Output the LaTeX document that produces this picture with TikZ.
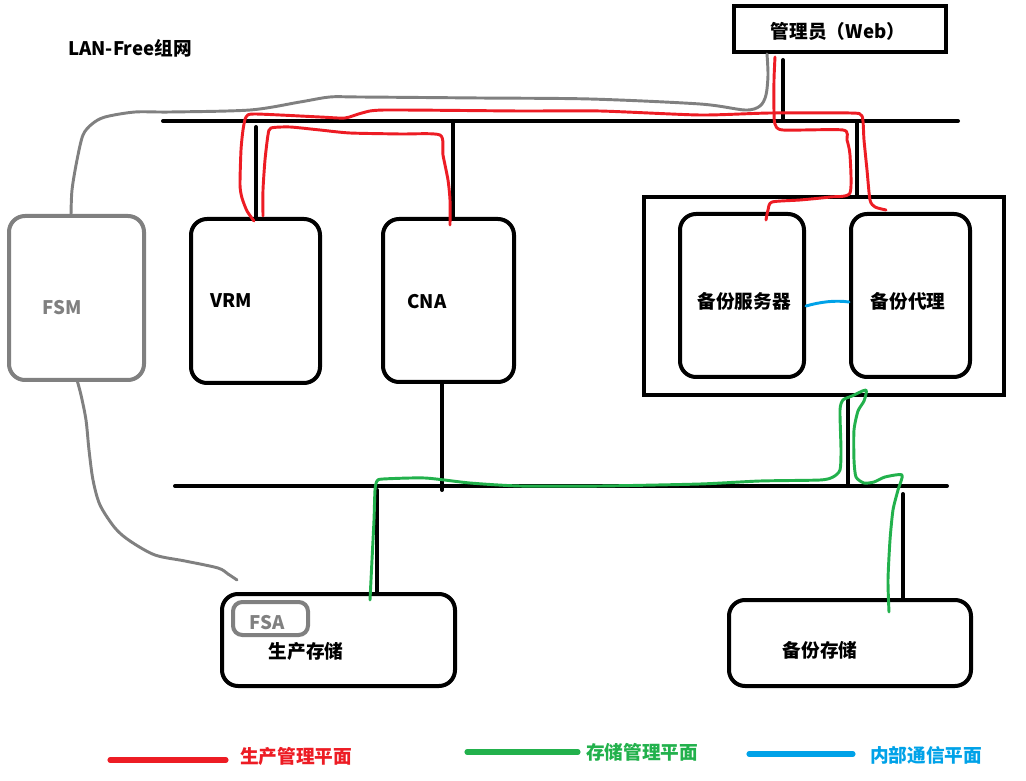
\documentclass[tikz,border=0pt]{standalone}
\usepackage{fontspec}
\setmainfont{Noto Sans CJK SC}
\definecolor{pred}{RGB}{237,28,36}
\definecolor{pgreen}{RGB}{34,177,76}
\definecolor{pblue}{RGB}{0,162,232}
\definecolor{pgray}{RGB}{128,128,128}
\tikzset{
  box/.style={draw=black, line width=3pt, rounded corners=12pt, inner sep=0pt},
  sqbox/.style={draw=black, line width=3pt, inner sep=0pt},
  graybox/.style={draw=pgray, line width=3pt, rounded corners=12pt, inner sep=0pt},
  lbl/.style={font=\fontsize{14pt}{16pt}\selectfont\bfseries, inner sep=0pt},
  wire/.style={draw=black, line width=3pt, line cap=round},
  redl/.style={draw=pred, line width=2.2pt, line join=round, line cap=round},
  greenl/.style={draw=pgreen, line width=2.2pt, line join=round, line cap=round},
  bluel/.style={draw=pblue, line width=2.2pt, line cap=round},
  grayl/.style={draw=pgray, line width=2.2pt, line join=round, line cap=round},
  legline/.style={line width=3.8pt, line cap=round}
}
\begin{document}
\begin{tikzpicture}[x=0.75pt,y=-0.75pt]
\useasboundingbox (0,0) rectangle (1026,781);
\fill[white] (0,0) rectangle (1026,781);

% title
\node[lbl, anchor=west] (title) at (68,48) {LAN-Free组网};

% boxes
\node[sqbox, minimum width=159pt, minimum height=35pt] (admin) at (840,29) {};
\node[lbl] (admint) at (838,31) {管理员（Web）};

\node[graybox, minimum width=101.25pt, minimum height=123pt] (fsm) at (76.5,298) {};
\node[lbl, text=pgray] (fsmt) at (62,308) {FSM};

\node[box, minimum width=96.75pt, minimum height=123pt] (vrm) at (255.5,301) {};
\node[lbl] (vrmt) at (231,301) {VRM};

\node[box, minimum width=98.25pt, minimum height=122.25pt] (cna) at (448.5,300.5) {};
\node[lbl] (cnat) at (427,302) {CNA};

\node[sqbox, minimum width=270pt, minimum height=148.5pt] (big) at (824,296) {};
\node[box, minimum width=93pt, minimum height=122.25pt] (bsrv) at (742,295.5) {};
\node[lbl] (bsrvt) at (744,301) {备份服务器};
\node[box, minimum width=89.25pt, minimum height=122.25pt] (bagt) at (910.5,295.5) {};
\node[lbl] (bagtt) at (908,301) {备份代理};

\node[box, minimum width=174.75pt, minimum height=69pt] (pst) at (338.5,640) {};
\node[graybox, rounded corners=7pt, minimum width=56.25pt, minimum height=24.75pt] (fsa) at (270.5,618.5) {};
\node[lbl, text=pgray] (fsat) at (267,623) {FSA};
\node[lbl] (pstt) at (306,651) {生产存储};

\node[box, minimum width=181.5pt, minimum height=64.5pt] (bst) at (850,643) {};
\node[lbl] (bstt) at (820,650) {备份存储};

% buses
\coordinate (busA1) at (163,121);
\coordinate (busA2) at (958,121);
\coordinate (busB1) at (175,486);
\coordinate (busB2) at (947,486);
\draw[wire] (busA1) -- (busA2);
\draw[wire] (busB1) -- (busB2);

% verticals
\coordinate (adm0) at (783,60);
\draw[wire] (adm0) -- (adm0 |- busA1);
\coordinate (vrm0) at (256,127);
\draw[wire] (vrm0) -- (vrm0 |- vrm.north);
\coordinate (cna0) at (453,121);
\draw[wire] (cna0) -- (cna0 |- cna.north);
\coordinate (big0) at (857,122);
\draw[wire] (big0) -- (big0 |- big.north);
\coordinate (cna1) at (442,490);
\draw[wire] (cna1 |- cna.south) -- (cna1);
\coordinate (big1) at (848,486);
\draw[wire] (big1 |- big.south) -- (big1);
\coordinate (pst0) at (377,490);
\draw[wire] (pst0) -- (pst0 |- pst.north);
\coordinate (bst0) at (903,494);
\draw[wire] (bst0) -- (bst0 |- bst.north);

% gray curves
\coordinate (g0) at (71,216);
\coordinate (g1) at (767,54);
\draw[grayl] plot[smooth, tension=0.5] coordinates {(g0) (72,190) (77,160) (83,135) (92,124) (105,117) (135,112) (170,112) (250,110) (300,102) (330,97) (360,97) (480,98) (590,99) (700,104) (745,110) (760,106) (766,95) (768,75) (g1)};
\coordinate (g2) at (77,380);
\coordinate (g3) at (237,580);
\draw[grayl] plot[smooth, tension=0.5] coordinates {(g2) (81,395) (86,420) (89,450) (93,480) (100,505) (115,528) (130,541) (155,555) (185,561) (218,568) (228,574) (g3)};

% red curves
\coordinate (r0) at (254,221);
\coordinate (r1) at (886,210);
\draw[redl] plot[smooth, tension=0.4] coordinates {(r0) (247,211) (242,198) (240,185) (241,150) (243,130) (246,117) (255,114) (320,117) (345,118) (362,113) (385,110) (520,111) (600,111) (700,115) (770,113) (850,113) (862,116) (864,140) (867,170) (870,200) (875,207) (r1)};
\coordinate (r2) at (263,216);
\coordinate (r3) at (450,225);
\draw[redl] plot[smooth, tension=0.4] coordinates {(r2) (263,190) (265,160) (268,135) (271,128) (290,127) (320,130) (350,133) (400,134) (440,135) (443,155) (448,180) (450,200) (r3)};
\coordinate (r4) at (775,57);
\coordinate (r5) at (766,220);
\draw[redl] plot[smooth, tension=0.4] coordinates {(r4) (774,80) (774,112) (775,124) (783,130) (843,130) (847,140) (850,155) (850,193) (830,197) (800,200) (772,202) (768,210) (r5)};

% green curve
\coordinate (gr0) at (370,600);
\coordinate (gr1) at (889,612);
\draw[greenl] plot[smooth, tension=0.4] coordinates {(gr0) (372,560) (374,520) (375,490) (377,481) (383,479) (425,478) (470,483) (520,486) (600,486) (700,484) (760,481) (820,480) (833,477) (840,470) (841,450) (840,410) (843,400) (852,396) (866,390) (864,401) (858,411) (854,430) (854,460) (856,477) (864,483) (874,482) (885,477) (902,475) (898,490) (893,510) (890,540) (888,580) (gr1)};

% blue
\draw[bluel] (bsrv.east |- 0,306) .. controls (820,302) and (835,300) .. (bagt.west |- 0,302);

% legend
\coordinate (lr0) at (110,760); \coordinate (lr1) at (226,760);
\draw[legline, pred] (lr0) -- (lr1);
\node[lbl, text=pred, anchor=west] (lrt) at (240,756) {生产管理平面};
\coordinate (lg0) at (467,752); \coordinate (lg1) at (578,752);
\draw[legline, pgreen] (lg0) -- (lg1);
\node[lbl, text=pgreen, anchor=west] (lgt) at (586,752) {存储管理平面};
\coordinate (lb0) at (749,754); \coordinate (lb1) at (853,754);
\draw[legline, pblue] (lb0) -- (lb1);
\node[lbl, text=pblue, anchor=west] (lbt) at (870,755) {内部通信平面};
\end{tikzpicture}
\end{document}
